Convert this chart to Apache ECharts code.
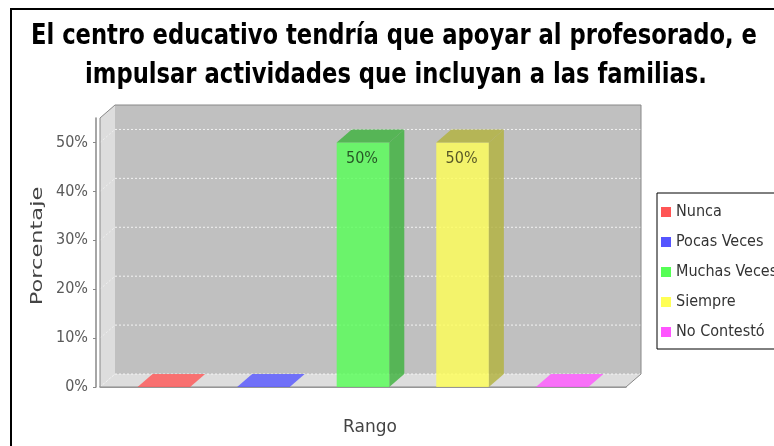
<!DOCTYPE html>
<html>
<head>
<meta charset="utf-8">
<script src="https://cdn.jsdelivr.net/npm/echarts@6/dist/echarts.min.js"></script>
<style>
  html, body { margin: 0; padding: 0; background: #fff; }
  #chart { width: 774px; height: 446px; }
</style>
</head>
<body>
<div id="chart"></div>
<script>
// datos del gráfico
const categories = [''];
const seriesNames = ['Nunca', 'Pocas Veces', 'Muchas Veces', 'Siempre', 'No Contestó'];
const seriesValues = [0, 0, 50, 50, 0];
const seriesColors = ['#FF5555', '#5555FF', '#55FF55', '#FFFF55', '#FF55FF'];
const yTicks = [0, 10, 20, 30, 40, 50];
const titleLines = [
  'El centro educativo tendría que apoyar al profesorado, e',
  'impulsar actividades que incluyan a las familias.'
];

// profundidad del efecto 3D
const DX = 15;
const DY = 13;
const FONT = '"DejaVu Sans Condensed", "DejaVu Sans", sans-serif';
const TITLE_FONT = 'bold 28px "DejaVu Sans Condensed", "DejaVu Sans", sans-serif';

const darker = (hex) => {
  const n = parseInt(hex.slice(1), 16);
  const c = [(n >> 16) & 255, (n >> 8) & 255, n & 255].map(v => Math.floor(v * 0.7));
  return 'rgb(' + c.join(',') + ')';
};

// paredes, suelo y rejilla
const renderWalls = (params, api) => {
  const cs = params.coordSys;
  const x0 = cs.x, x1 = cs.x + cs.width;
  const yT = cs.y, yB = cs.y + cs.height;
  const children = [
    { type: 'rect', shape: { x: x0 + DX, y: yT - DY, width: cs.width, height: cs.height }, style: { fill: '#C0C0C0' } },
    { type: 'polygon', shape: { points: [[x0, yB], [x0, yT], [x0 + DX, yT - DY], [x0 + DX, yB - DY]] }, style: { fill: '#DDDDDD' } },
    { type: 'polygon', shape: { points: [[x0, yB], [x0 + DX, yB - DY], [x1 + DX, yB - DY], [x1, yB]] }, style: { fill: '#DDDDDD' } }
  ];
  yTicks.forEach(t => {
    const y = api.coord([0, t])[1];
    children.push({
      type: 'line',
      shape: { x1: x0 + DX, y1: y - DY, x2: x1 + DX, y2: y - DY },
      style: { stroke: '#FFFFFF', lineWidth: 1, lineDash: [2, 2], opacity: 0.8 }
    });
    children.push({
      type: 'line',
      shape: { x1: x0, y1: y, x2: x0 + DX, y2: y - DY },
      style: { stroke: '#FFFFFF', lineWidth: 1, lineDash: [2, 2], opacity: 0.5 }
    });
  });
  children.push({
    type: 'polygon',
    shape: { points: [[x0, yB], [x0, yT], [x0 + DX, yT - DY], [x1 + DX, yT - DY], [x1 + DX, yB - DY], [x1, yB]] },
    style: { fill: 'none', stroke: '#888888', lineWidth: 1 }
  });
  return { type: 'group', children };
};

// barras 3D
const renderBar = (params, api) => {
  const i = params.seriesIndex - 1;
  const n = seriesNames.length;
  const v = api.value(1);
  const base = api.coord([api.value(0), 0]);
  const top = api.coord([api.value(0), v]);
  const band = api.size([1, 0])[0];
  const step = band * 0.1893;
  const w = band * 0.1;
  const cx = base[0] + (i - (n - 1) / 2) * step;
  const xa = cx - w / 2, xb = cx + w / 2;
  const yb = base[1], yt = top[1];
  const color = seriesColors[i];
  const dark = darker(color);
  const topFace = {
    type: 'polygon',
    shape: { points: [[xa, yt], [xa + DX, yt - DY], [xb + DX, yt - DY], [xb, yt]] },
    style: { fill: v > 0 ? dark : color, opacity: 0.8 }
  };
  if (v <= 0) return { type: 'group', children: [topFace] };
  return {
    type: 'group',
    children: [
      { type: 'rect', shape: { x: xa, y: yt, width: w, height: yb - yt }, style: { fill: color, opacity: 0.8 } },
      { type: 'polygon', shape: { points: [[xb, yt], [xb + DX, yt - DY], [xb + DX, yb - DY], [xb, yb]] }, style: { fill: dark, opacity: 0.8 } },
      topFace,
      {
        type: 'text',
        style: {
          text: v + '%', x: cx - 1, y: yt + 16, align: 'center', verticalAlign: 'middle',
          fill: 'rgba(0,0,0,0.65)', font: '16px ' + FONT
        }
      }
    ]
  };
};

const chart = echarts.init(document.getElementById('chart'), null, { renderer: 'canvas' });

const series = [{
  name: 'fondo',
  type: 'custom',
  z: 1,
  silent: true,
  renderItem: renderWalls,
  data: [[0, 0]]
}];
seriesNames.forEach((name, i) => {
  series.push({
    name,
    type: 'custom',
    z: 2,
    renderItem: renderBar,
    itemStyle: { color: seriesColors[i] },
    data: [[0, seriesValues[i]]]
  });
});

chart.setOption({
  animation: false,
  backgroundColor: '#FFFFFF',
  grid: { left: 100, right: 148, top: 118, bottom: 59 },
  legend: {
    data: seriesNames,
    orient: 'vertical',
    left: 657,
    top: 193,
    icon: 'rect',
    itemWidth: 10,
    itemHeight: 10,
    itemGap: 10,
    borderColor: '#000',
    borderWidth: 1,
    borderRadius: 0,
    padding: [9, 40, 7, 4],
    selectedMode: false,
    textStyle: { fontSize: 16, color: '#333', fontFamily: FONT, lineHeight: 20 }
  },
  xAxis: {
    type: 'category',
    data: categories,
    offset: 6,
    axisLine: { lineStyle: { color: '#888', width: 1.5 } },
    axisTick: { alignWithLabel: true, length: 4, lineStyle: { color: '#888' } },
    axisLabel: { show: false },
    splitLine: { show: false },
    name: 'Rango',
    nameLocation: 'middle',
    nameGap: 26,
    nameTextStyle: { fontSize: 17, color: '#444', fontFamily: '"DejaVu Sans", sans-serif', padding: [0, 0, 0, 14] }
  },
  yAxis: {
    type: 'value',
    min: 0,
    max: 55,
    interval: 10,
    offset: 4,
    axisLine: { show: true, lineStyle: { color: '#888', width: 1.5 } },
    axisTick: { show: true, length: 3, customValues: yTicks, lineStyle: { color: '#888' } },
    axisLabel: { customValues: yTicks, formatter: '{value}%', margin: 8, fontSize: 16, color: '#5a5a5a', fontFamily: FONT },
    splitLine: { show: false }
  },
  graphic: [
    { type: 'rect', shape: { x: 11, y: 9, width: 800, height: 500 }, style: { fill: 'none', stroke: '#000', lineWidth: 2 }, z: 10 },
    {
      type: 'text', x: 394, y: 37, scaleX: 0.9,
      style: { text: titleLines[0], align: 'center', verticalAlign: 'middle', fill: '#000', font: TITLE_FONT }
    },
    {
      type: 'text', x: 396, y: 76, scaleX: 0.9,
      style: { text: titleLines[1], align: 'center', verticalAlign: 'middle', fill: '#000', font: TITLE_FONT }
    },
    {
      type: 'text', x: 38, y: 246, rotation: Math.PI / 2, scaleX: 1.25, scaleY: 0.85,
      style: { text: 'Porcentaje', align: 'center', verticalAlign: 'middle', fill: '#444', font: '18px "DejaVu Sans", sans-serif' }
    }
  ],
  series
});
</script>
</body>
</html>
